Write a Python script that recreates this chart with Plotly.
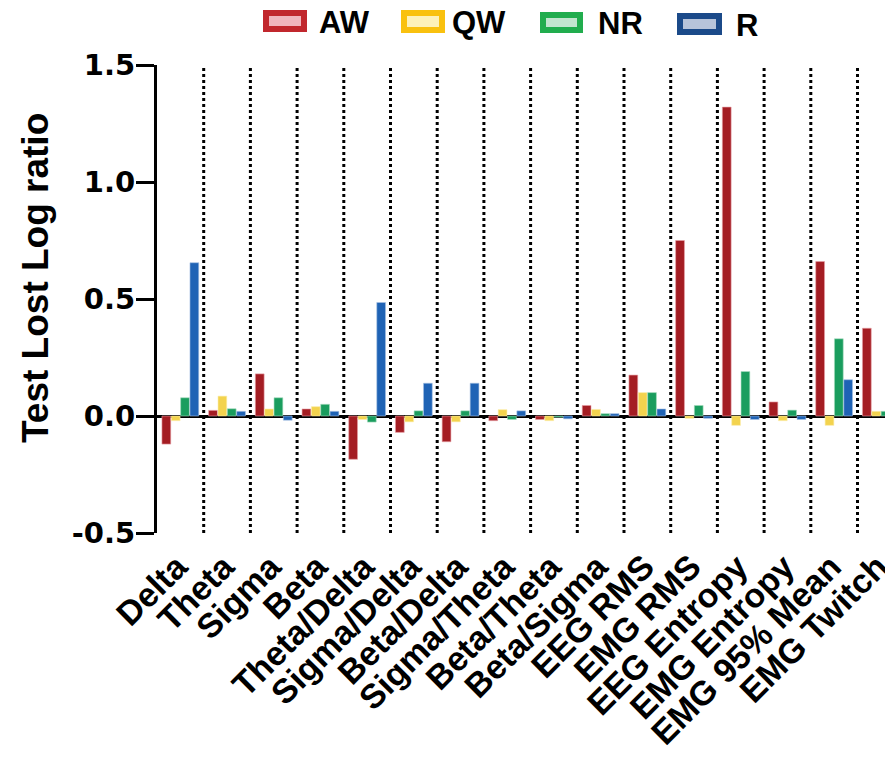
import plotly.graph_objects as go

categories = ["Delta", "Theta", "Sigma", "Beta", "Theta/Delta", "Sigma/Delta",
              "Beta/Delta", "Sigma/Theta", "Beta/Theta", "Beta/Sigma", "EEG RMS",
              "EMG RMS", "EEG Entropy", "EMG Entropy", "EMG 95% Mean", "EMG Twitch"]
series_names = ["AW", "QW", "NR", "R"]
aw = [-0.12, 0.024, 0.18, 0.03, -0.185, -0.07, -0.11, -0.02, -0.015, 0.045, 0.175, 0.75, 1.32, 0.06, 0.66, 0.375]
qw = [-0.02, 0.085, 0.03, 0.04, -0.015, -0.025, -0.025, 0.027, -0.02, 0.028, 0.10, -0.01, -0.04, -0.02, -0.04, 0.02]
nr = [0.078, 0.031, 0.078, 0.05, -0.026, 0.022, 0.022, -0.015, -0.005, 0.01, 0.10, 0.045, 0.19, 0.025, 0.33, 0.02]
r = [0.655, 0.02, -0.018, 0.02, 0.485, 0.14, 0.14, 0.022, -0.012, 0.01, 0.03, -0.01, -0.015, -0.015, 0.155, -0.04]
y_ticks = [-0.5, 0.0, 0.5, 1.0, 1.5]
y_tick_labels = ["-0.5", "0.0", "0.5", "1.0", "1.5"]
y_title = "Test Lost Log ratio"

bar_colors = ["#a41d23", "#f3d34e", "#1a9d5e", "#1f63b5"]
legend_border = ["#c1272d", "#f9c10f", "#21ad4e", "#1b4a89"]
legend_fill = ["#f0b5bd", "#fdf1b9", "#c2e5cf", "#b7c4da"]
bar_edge = ["#e8a0a6", "#fbeeb0", "#a8dcc0", "#a9c2e4"]

# page body has an 8px margin; layout positions below are in page pixels
OFF = 8
W, H = 893, 764
PAGE_LEFT, PAGE_TOP, PAGE_BOTTOM = 157, 65, 533
GROUP_PX = 46.7
ML = PAGE_LEFT - OFF
MT = PAGE_TOP - OFF
MB = H - (PAGE_BOTTOM - OFF)
MR = 0
PW, PH = W - ML - MR, H - MT - MB
x_end = -0.5 + PW / GROUP_PX


def px_x(px):
    return (px - OFF - ML) / PW


def px_y(py):
    return (H - MB - (py - OFF)) / PH


fig = go.Figure()
for name, vals, col, edge in zip(series_names, [aw, qw, nr, r], bar_colors, bar_edge):
    fig.add_trace(go.Bar(x=categories, y=vals, name=name, showlegend=False,
                         marker=dict(color=col, line=dict(color=edge, width=0.6))))

shapes = []
# dotted separators between groups
for i in range(len(categories) - 1):
    shapes.append(dict(type="line", xref="x", yref="y", x0=i + 0.5, x1=i + 0.5,
                       y0=-0.5, y1=1.5, line=dict(color="black", width=3, dash="dot"),
                       layer="above"))

# custom legend
legend_boxes = [(263, 10, 307, 32), (401, 10, 445, 33), (540, 12, 583, 33), (677, 13, 722, 35)]
legend_text_x = [317, 450, 596, 734]
annotations = []
for (x0, y0, x1, y1), name, bc, fc, tx in zip(legend_boxes, series_names, legend_border,
                                              legend_fill, legend_text_x):
    shapes.append(dict(type="rect", xref="paper", yref="paper",
                       x0=px_x(x0 + 3), x1=px_x(x1 - 3), y0=px_y(y1 - 3), y1=px_y(y0 + 3),
                       fillcolor=fc, line=dict(color=bc, width=6), layer="above"))
    annotations.append(dict(text="<b>%s</b>" % name, xref="paper", yref="paper",
                            x=px_x(tx), y=px_y((y0 + y1) / 2 + 1), xanchor="left", yanchor="middle",
                            showarrow=False,
                            font=dict(family="Liberation Sans, Arial", size=31, color="black")))

annotations.append(dict(text="<b>%s</b>" % y_title, xref="paper", yref="paper",
                        x=px_x(35), y=px_y(278), xanchor="center", yanchor="middle",
                        textangle=-90, showarrow=False,
                        font=dict(family="Liberation Sans, Arial", size=37, color="black")))

fig.update_layout(
    width=W, height=H,
    margin=dict(l=ML, r=MR, t=MT, b=MB, pad=0, autoexpand=False),
    paper_bgcolor="white", plot_bgcolor="white",
    barmode="group", bargap=0.2, bargroupgap=0.06,
    shapes=shapes, annotations=annotations,
    showlegend=False,
    xaxis=dict(type="category", range=[-0.5, x_end], showline=False, showgrid=False,
               zeroline=False, ticks="", tickangle=-45, automargin=False,
               ticklabelstandoff=6, ticklabelshift=-3,
               tickfont=dict(family="Liberation Sans, Arial", size=34, color="black", weight="bold")),
    yaxis=dict(range=[-0.5, 1.5], tickvals=y_ticks, ticktext=y_tick_labels, automargin=False,
               showline=True, linewidth=3, linecolor="black", showgrid=False,
               zeroline=True, zerolinewidth=3, zerolinecolor="black",
               ticks="outside", ticklen=18, tickwidth=3, tickcolor="black",
               ticklabelstandoff=-5,
               tickfont=dict(family="DejaVu Sans", size=29, color="black", weight="bold")),
)

fig.write_html("out.html")
